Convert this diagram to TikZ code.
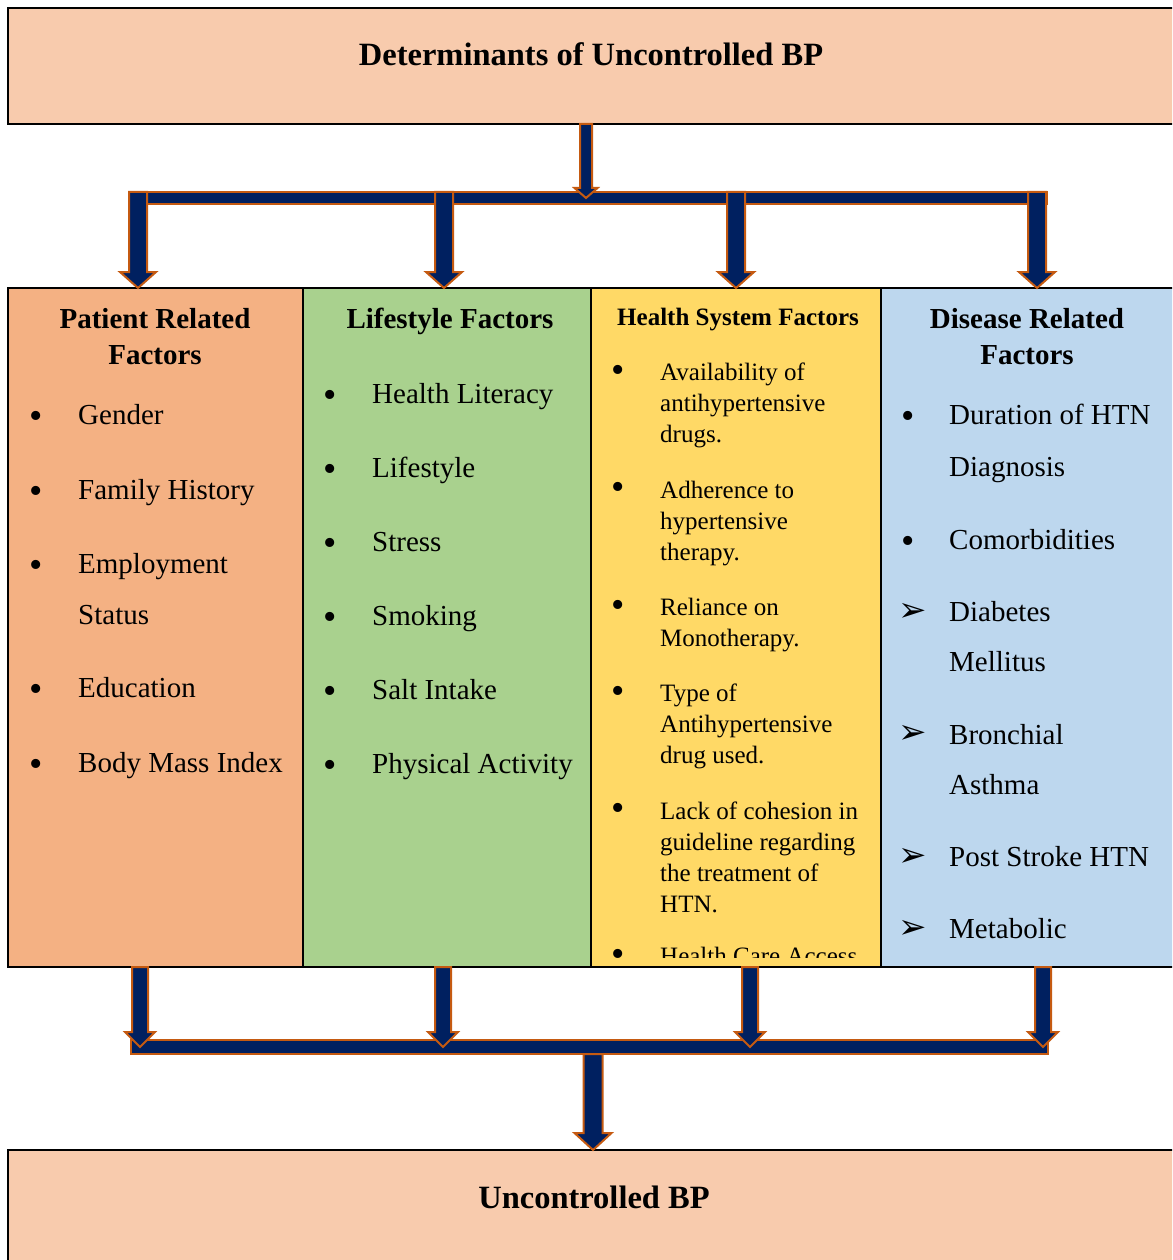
\documentclass[tikz,border=0pt]{standalone}
\usepackage{fontspec}
\setmainfont{Liberation Serif}
\newfontfamily\arrowfont{DejaVu Sans}
\usepackage{tikz}
\usetikzlibrary{calc}

\definecolor{peach}{HTML}{F8CBAD}
\definecolor{patcol}{HTML}{F4B183}
\definecolor{lifecol}{HTML}{A9D18E}
\definecolor{healthcol}{HTML}{FFD966}
\definecolor{discol}{HTML}{BDD7EE}
\definecolor{navy}{HTML}{002060}
\definecolor{rust}{HTML}{C55A11}

% block arrow: from, to, half shaft, half head, head length
\newcommand{\blockarrow}[5]{%
  \path[blockfill] let \p1=#1, \p2=#2 in
    (\x1-#3,\y1) -- (\x1+#3,\y1) -- (\x1+#3,\y2+#5) -- (\x1+#4,\y2+#5)
    -- (\x1,\y2) -- (\x1-#4,\y2+#5) -- (\x1-#3,\y2+#5) -- cycle;}

\begin{document}
\begin{tikzpicture}[
            x = 1pt, y = -1pt, % one unit per pixel, y going down
            box/.style = {draw=black, line width=2.5pt, inner sep=0pt, outer sep=0pt, anchor=north west},
            bar/.style = {fill=navy, draw=rust, line width=2pt, inner sep=0pt, outer sep=0pt, anchor=north west},
            blockfill/.style = {fill=navy, draw=rust, line width=2pt}, % arrow body
            item/.style = {anchor=base west, inner sep=0pt, align=left, font=\fontsize{29}{51}\selectfont},
            hitem/.style = {anchor=base west, inner sep=0pt, align=left, font=\fontsize{25}{31}\selectfont},
            dot/.style = {anchor=base, inner sep=0pt, yshift=-4pt, font=\fontsize{38}{40}\selectfont},
            head/.style = {anchor=base, inner sep=0pt, align=center, font=\bfseries\fontsize{29}{36}\selectfont},
            title/.style = {anchor=base, inner sep=0pt, font=\bfseries\fontsize{32.5}{36}\selectfont}
        ]
\useasboundingbox (0,0) rectangle (1172,1260);
\clip (0,0) rectangle (1172,1260);

% boxes
\node[box, fill=peach, minimum width=1180pt, minimum height=116pt] (top) at (8,8) {};
\node[box, fill=patcol, minimum width=295pt, minimum height=679pt] (pat) at (8,288) {};
\node[box, fill=lifecol, minimum width=288pt, minimum height=679pt] (life) at (303,288) {};
\node[box, fill=healthcol, minimum width=290pt, minimum height=679pt] (hsys) at (591,288) {};
\node[box, fill=discol, minimum width=300pt, minimum height=679pt] (dis) at (881,288) {};
\node[box, fill=peach, minimum width=1180pt, minimum height=130pt] (bot) at (8,1150) {};

% bars
\node[bar, minimum width=917pt, minimum height=12pt] (topbar) at (130,192) {};
\node[bar, minimum width=917pt, minimum height=14pt] (botbar) at (131,1040) {};

\coordinate (s0) at (586,0);
\coordinate (a1) at (138,0);
\coordinate (a2) at (444,0);
\coordinate (a3) at (736,0);
\coordinate (a4) at (1037,0);
\coordinate (b1) at (140,0);
\coordinate (b2) at (443,0);
\coordinate (b3) at (750,0);
\coordinate (b4) at (1043,0);
\coordinate (b0) at (593,0);

% arrows
\blockarrow{(top.south -| s0)}{(topbar.center -| s0)}{6pt}{11.5pt}{10pt}
\foreach \c/\b in {a1/pat, a2/life, a3/hsys, a4/dis} {
  \blockarrow{(topbar.north -| \c)}{(\b.north -| \c)}{9pt}{18pt}{16pt}
}
\foreach \c/\b in {b1/pat, b2/life, b3/hsys, b4/dis} {
  \blockarrow{(\b.south -| \c)}{(botbar.center -| \c)}{8pt}{15pt}{15pt}
}
\blockarrow{(botbar.south -| b0)}{(bot.north -| b0)}{9.5pt}{18.5pt}{17pt}

% titles
\node[title] (ttl) at (591,66) {Determinants of Uncontrolled BP};
\node[title] (uttl) at (594,1208) {Uncontrolled BP};

% headers (base = last line)
\node[head] (pathead) at (155,364) {Patient Related\\Factors};
\node[head] (lifehead) at (450,328) {Lifestyle Factors};
\node[head, font=\bfseries\fontsize{25}{30}\selectfont] (hsyshead) at (738,325) {Health System Factors};
\node[head] (dishead) at (1027,364) {Disease Related\\Factors};

% patient related: bullet line / last line / text
\foreach \y/\z/\t in {424/424/Gender, 499/499/Family History, 573/624/{Employment\\Status}, 697/697/Education, 772/772/Body Mass Index} {
  \node[dot] (pd\y) at (36,\y) {•};
  \node[item] (pt\y) at (78,\z) {\t};
}

% lifestyle
\foreach \y/\t in {403/Health Literacy, 477/Lifestyle, 551/Stress, 625/Smoking, 699/Salt Intake, 773/Physical Activity} {
  \node[dot] (ld\y) at (330,\y) {•};
  \node[item] (lt\y) at (372,\y) {\t};
}

% health system
\foreach \y/\z/\t in {380/442/{Availability of\\antihypertensive\\drugs.}, 497/560/{Adherence to\\hypertensive\\therapy.},
                      615/646/{Reliance on\\Monotherapy.}, 701/763/{Type of\\Antihypertensive\\drug used.},
                      818/912/{Lack of cohesion in\\guideline regarding\\the treatment of\\HTN.}} {
  \node[dot] (hd\y) at (618,\y-2) {•};
  \node[hitem] (ht\y) at (660,\z) {\t};
}
\begin{scope}
  \clip (591,288) rectangle (881,957);
  \node[dot] (hd964) at (618,962) {•};
  \node[hitem] (ht964) at (660,964) {Health Care Access};
\end{scope}

% disease related
\foreach \y/\z/\t in {424/476/{Duration of HTN\\Diagnosis}, 549/549/Comorbidities} {
  \node[dot] (dd\y) at (908,\y) {•};
  \node[item, font=\fontsize{29}{52}\selectfont] (dt\y) at (949,\z) {\t};
}
\foreach \y/\z/\t in {621/671/{Diabetes\\Mellitus}, 743/794/{Bronchial\\Asthma}, 866/866/Post Stroke HTN, 938/938/Metabolic} {
  \node[dot, yshift=4pt, font=\arrowfont\fontsize{34}{36}\selectfont] (da\y) at (913,\y) {➢};
  \node[item, font=\fontsize{29}{50}\selectfont] (dt\y) at (949,\z) {\t};
}
\end{tikzpicture}
\end{document}
